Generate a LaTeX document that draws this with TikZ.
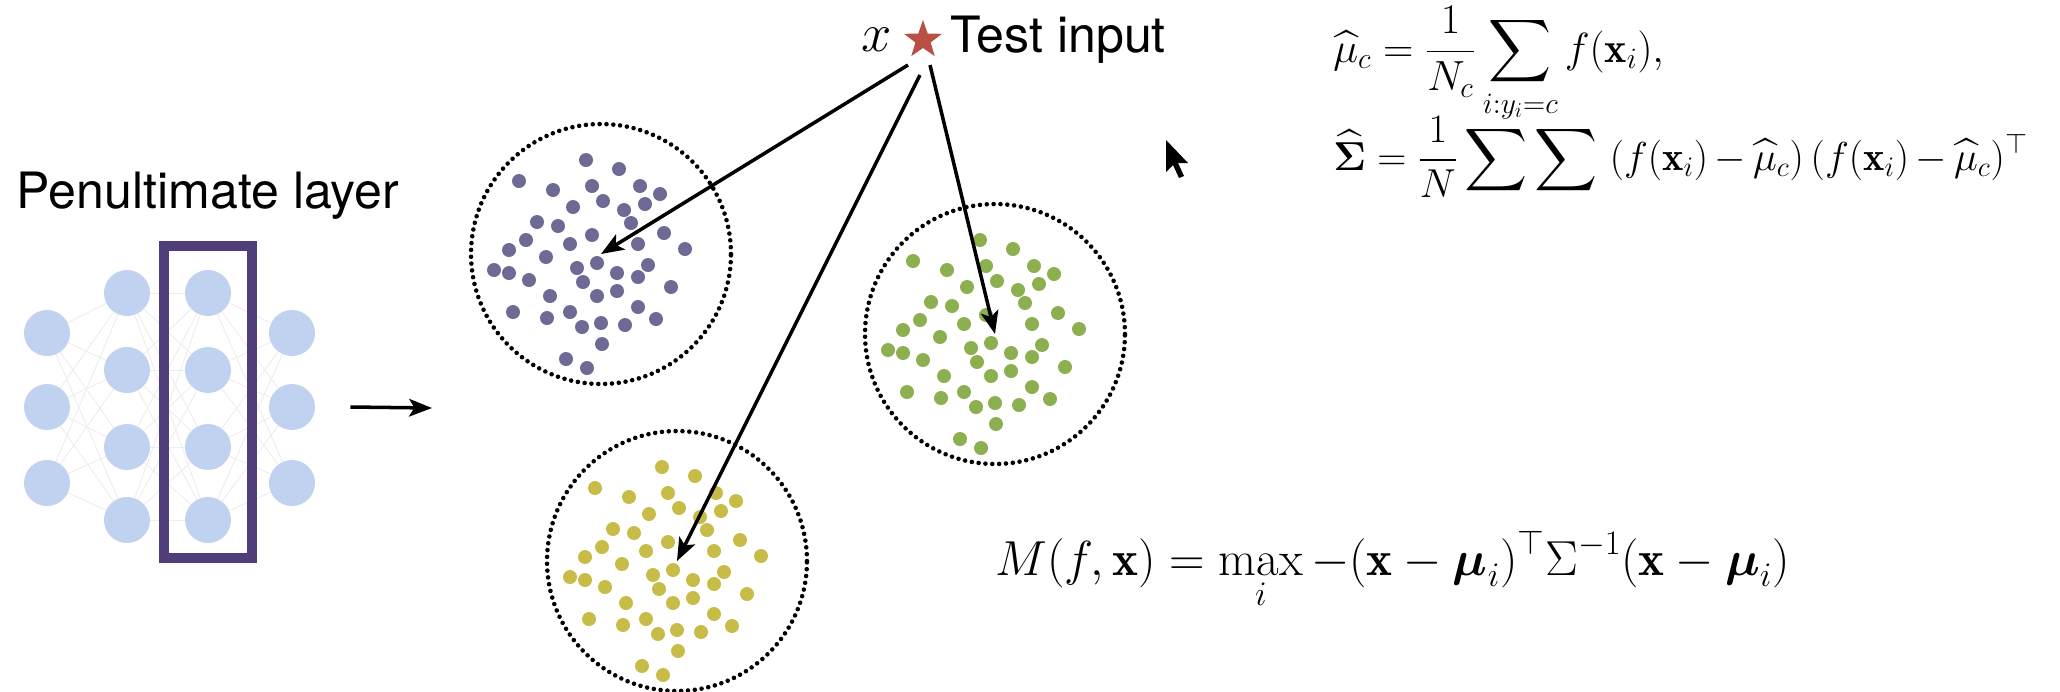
\RequirePackage{fix-cm}
\documentclass[tikz,border=0pt]{standalone}
\usepackage{amsmath}
\usepackage{fontspec}
\setsansfont{TeX Gyre Heros}
\usepackage{tikz}
\usetikzlibrary{shapes.geometric, arrows.meta, positioning}

\definecolor{nnblue}{RGB}{192,210,240}
\definecolor{boxpurple}{RGB}{80,62,122}
\definecolor{dotpurple}{RGB}{110,106,150}
\definecolor{dotgreen}{RGB}{140,176,80}
\definecolor{dotyellow}{RGB}{200,188,72}
\definecolor{starred}{RGB}{185,80,70}

\begin{document}
\begin{tikzpicture}[
    x=0.02cm, y=-0.02cm,
    neuron/.style={circle, fill=nnblue, minimum size=0.92cm, inner sep=0},
    link/.style={gray!15, line width=0.5pt},
    cluster/.style={circle, draw, minimum size=5.2cm, line width=2.6pt,
        dash pattern=on 0pt off 3.9pt, line cap=round},
    dot/.style={circle, inner sep=0, minimum size=0.28cm},
    arrow/.style={-{Stealth[length=13pt, width=10pt, inset=3pt]}, line width=2pt},
    sftext/.style={font=\sffamily\fontsize{28.5}{34}\selectfont, inner sep=0},
    eq/.style={anchor=base west, inner sep=0}
]
    \useasboundingbox (0,0) rectangle (2060,691);

    % input layer
    \foreach \i/\y in {1/333, 2/407, 3/483}
        \node[neuron] (in\i) at (47,\y) {};
    % hidden layer
    \foreach \i/\y in {1/293, 2/370, 3/447, 4/520}
        \node[neuron] (hd\i) at (127,\y) {};
    % penultimate layer
    \foreach \i/\y in {1/293, 2/370, 3/447, 4/520}
        \node[neuron] (pl\i) at (208,\y) {};
    % output layer
    \foreach \i/\y in {1/333, 2/407, 3/483}
        \node[neuron] (out\i) at (292,\y) {};

    % faint links between layers
    \foreach \a in {1,2,3} \foreach \b in {1,...,4}
        \draw[link] (in\a) -- (hd\b);
    \foreach \a in {1,...,4} \foreach \b in {1,...,4}
        \draw[link] (hd\a) -- (pl\b);
    \foreach \a in {1,...,4} \foreach \b in {1,2,3}
        \draw[link] (pl\a) -- (out\b);

    % box round the penultimate layer
    \node[draw=boxpurple, line width=5.6pt, minimum width=1.76cm,
        minimum height=6.24cm, inner sep=0] (pen) at (208,402) {};
    \node[sftext, above=0.42cm of pen] (penlabel) {Penultimate layer};

    \coordinate (feat) at (432,408);
    \draw[arrow] ([xshift=0.7cm]out2.east) -- (feat);

    % class clusters
    \node[cluster] (pc) at (601,254) {};
    \node[cluster] (gc) at (995,334) {};
    \node[cluster] (yc) at (677,561) {};

    \foreach \cl/\col in {pc/dotpurple, gc/dotgreen, yc/dotyellow} {
        \foreach \dx/\dy [count=\i] in {
            -15/-94, 18/-85, -82/-73, -48/-64, -9/-68, 39/-68, 59/-60,
            2/-53, -28/-47, 23/-44, 44/-50, 30/-31, -64/-32, -43/-28,
            -9/-19, 63/-21, 37/-10, 84/-5, -75/-14, -92/-4, -31/-10,
            -55/3, -4/9, -107/16, -92/19, -72/26, -24/14, -18/28, 16/19,
            37/23, 47/11, 70/33, -51/42, -4/42, 16/37, -88/58, -54/64,
            -31/58, -19/73, 0/69, 24/71, 37/53, 55/65, 1/90, -35/105,
            -14/114} {
            \node[dot, fill=\col] (\cl d\i) at ([shift={(\dx,\dy)}]\cl.center) {};
        }
    }

    % test input
    \node[star, star points=5, star point ratio=2.5, fill=starred,
        minimum size=0.8cm, inner sep=0] (star) at (923,40) {};
    \node[sftext, right=0.32cm of star] (testin) {Test input};
    \node[inner sep=0, left=0.38cm of star,
        font=\fontsize{31}{36}\selectfont] (xin) {$x$};

    \draw[arrow] ([shift={(-15,25)}]star.center) -- (pc.center);
    \draw[arrow] ([shift={(-3,35)}]star.center) -- (yc.center);
    \draw[arrow] ([shift={(7,25)}]star.center) -- (gc.center);

    % class means and shared covariance
    \node[eq, font=\fontsize{24}{29}\selectfont] (mueq) at (1333,62)
        {$\displaystyle\widehat{\mu}_c = \frac{1}{N_c}\sum_{i:y_i=c} f(\mathbf{x}_i),$};
    \node[eq, font=\fontsize{23}{28}\selectfont] (sigeq) at (1333,170)
        {$\medmuskip=3mu\displaystyle\widehat{\boldsymbol{\Sigma}} = \frac{1}{N}\sum\sum\ 
        (f(\mathbf{x}_i)-\widehat{\mu}_c)\,(f(\mathbf{x}_i)-\widehat{\mu}_c)^{\top}$};

    % Mahalanobis score
    \node[eq, font=\fontsize{28}{34}\selectfont] (mahal) at (995,575)
        {$\displaystyle M(f,\mathbf{x}) = \max_i -(\mathbf{x}-\boldsymbol{\mu}_i)^{\top}
        \Sigma^{-1}(\mathbf{x}-\boldsymbol{\mu}_i)$};

    % mouse pointer
    \fill (1166,140) -- ++(0,32) -- ++(7,-7) -- ++(6,13) -- ++(5,-2)
        -- ++(-6,-13) -- ++(10,0) -- cycle;
\end{tikzpicture}
\end{document}
